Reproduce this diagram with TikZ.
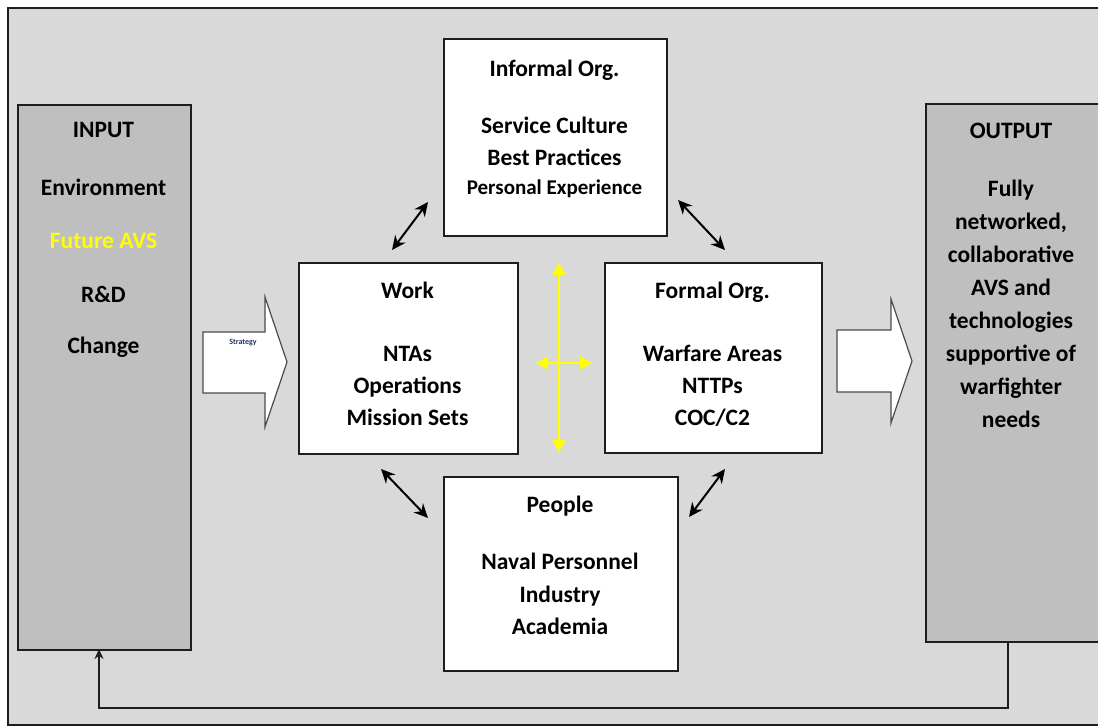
\documentclass[tikz,border=0pt]{standalone}
\usepackage{fontspec}
\setmainfont{Carlito}
\usetikzlibrary{arrows.meta}
\definecolor{bgray}{HTML}{D9D9D9}
\definecolor{iogray}{HTML}{BFBFBF}
\definecolor{edge}{HTML}{1E1E1E}
\definecolor{yel}{HTML}{FFFF00}
\definecolor{stratblue}{HTML}{1F3864}
\begin{document}
\begin{tikzpicture}[x=1pt,y=-1pt,
  cbox/.style={draw=edge, line width=1.7pt, fill=white, anchor=north west, inner sep=0pt},
  iobox/.style={draw=edge, line width=1.7pt, fill=iogray, anchor=north west, inner sep=0pt},
  txt/.style={font=\fontsize{23.5}{27}\selectfont\bfseries, anchor=base, inner sep=0pt, text=black},
  smalltxt/.style={font=\fontsize{21}{24}\selectfont\bfseries, anchor=base, inner sep=0pt, text=black},
  dbl/.style={line width=2pt, draw=black, {Stealth[length=14pt,width=13pt]}-{Stealth[length=14pt,width=13pt]}},
  ydbl/.style={line width=2.4pt, draw=yel, {Triangle[length=12pt,width=13pt]}-{Triangle[length=12pt,width=13pt]}},
  blockarrow/.style={draw=edge!80, line width=1.2pt, fill=white, line join=miter},
]
\useasboundingbox (0,0) rectangle (1098,726);
\clip (0,0) rectangle (1098,726);
% outer frame
\node[draw=edge, line width=1.6pt, fill=bgray, anchor=north west, inner sep=0pt,
      minimum width=1098pt, minimum height=717pt] (frame) at (7,7) {};

% input / output boxes
\node[iobox, minimum width=173pt, minimum height=545pt] (input) at (17,104) {};
\node[iobox, minimum width=174pt, minimum height=538pt] (output) at (925,103) {};

% central boxes
\node[cbox, minimum width=223pt, minimum height=197pt] (informal) at (443,38) {};
\node[cbox, minimum width=219pt, minimum height=191pt] (work) at (298,262) {};
\node[cbox, minimum width=217pt, minimum height=190pt] (formal) at (604,262) {};
\node[cbox, minimum width=234pt, minimum height=194pt] (people) at (443,476) {};

% block arrows
\draw[blockarrow] (203,332) -- (265,332) -- (265,297) -- (287,362) -- (265,427) -- (265,393) -- (203,393) -- cycle;
\node[font=\fontsize{8}{9}\selectfont\bfseries, text=stratblue, inner sep=0pt] (strategy) at (243,343) {Strategy};
\draw[blockarrow] (837,330) -- (891,330) -- (891,299) -- (912,361) -- (891,423) -- (891,392) -- (837,392) -- cycle;

% INPUT texts
\node[txt] (in0) at (103.5,137) {INPUT};
\node[txt] (in1) at (103.5,195) {Environment};
\node[txt, text=yel] (in2) at (103.5,248) {Future AVS};
\node[txt] (in3) at (103.5,302) {R\&D};
\node[txt] (in4) at (103.5,353) {Change};

% OUTPUT texts
\node[txt] (out0) at (1011,138) {OUTPUT};
\node[txt] (out1) at (1011,196) {Fully};
\node[txt] (out2) at (1011,229) {networked,};
\node[txt] (out3) at (1011,262) {collaborative};
\node[txt] (out4) at (1011,295) {AVS and};
\node[txt] (out5) at (1011,328) {technologies};
\node[txt] (out6) at (1011,361) {supportive of};
\node[txt] (out7) at (1011,394) {warfighter};
\node[txt] (out8) at (1011,427) {needs};

% Informal Org.
\node[txt] (inf0) at (554.5,76) {Informal Org.};
\node[txt] (inf1) at (554.5,133) {Service Culture};
\node[txt] (inf2) at (554.5,165) {Best Practices};
\node[smalltxt] (inf3) at (554.5,194) {Personal Experience};

% Work
\node[txt] (w0) at (407.5,298) {Work};
\node[txt] (w1) at (407.5,361) {NTAs};
\node[txt] (w2) at (407.5,393) {Operations};
\node[txt] (w3) at (407.5,425) {Mission Sets};

% Formal Org.
\node[txt] (f0) at (712.5,298) {Formal Org.};
\node[txt] (f1) at (712.5,361) {Warfare Areas};
\node[txt] (f2) at (712.5,393) {NTTPs};
\node[txt] (f3) at (712.5,425) {COC/C2};

% People
\node[txt] (p0) at (560,512) {People};
\node[txt] (p1) at (560,569) {Naval Personnel};
\node[txt] (p2) at (560,602) {Industry};
\node[txt] (p3) at (560,634) {Academia};

% double arrows between boxes
\coordinate (a1s) at (392,250); \coordinate (a1e) at (428,202);
\coordinate (a2s) at (678,200); \coordinate (a2e) at (725,250);
\coordinate (a3s) at (381,469); \coordinate (a3e) at (428,518);
\coordinate (a4s) at (689,517); \coordinate (a4e) at (725,469);
\draw[dbl] (a1s) -- (a1e);
\draw[dbl] (a2s) -- (a2e);
\draw[dbl] (a3s) -- (a3e);
\draw[dbl] (a4s) -- (a4e);

% yellow cross
\coordinate (yt) at (559,263); \coordinate (yb) at (559,452);
\coordinate (yl) at (536,363); \coordinate (yr) at (592,363);
\draw[ydbl] (yt) -- (yb);
\draw[ydbl] (yl) -- (yr);

% feedback loop
\coordinate (fbo) at (1008,641);
\coordinate (fbi) at (99,649);
\draw[draw=edge, line width=1.6pt, -{Stealth[length=10pt,width=9pt]}] (fbo) -- (1008,708) -| (fbi);
\end{tikzpicture}
\end{document}
